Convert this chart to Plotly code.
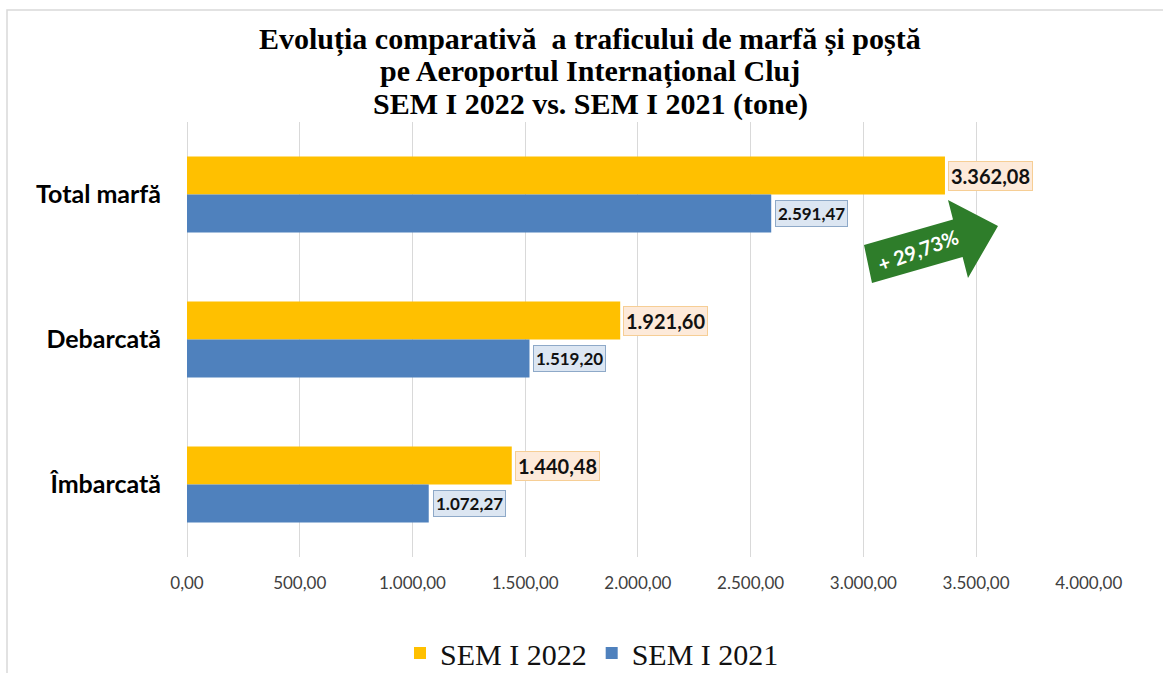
import plotly.graph_objects as go

# ---------------- data ----------------
categories = ["Total marfă", "Debarcată", "Îmbarcată"]
sem_2022 = [3362.08, 1921.60, 1440.48]
sem_2021 = [2591.47, 1519.20, 1072.27]
series_names = ["SEM I 2022", "SEM I 2021"]
title_lines = [
    "Evoluția comparativă  a traficului de marfă și poștă",
    "pe Aeroportul Internațional Cluj",
    "SEM I 2022 vs. SEM I 2021 (tone)",
]
growth_label = "+ 29,73%"
x_ticks = [0, 500, 1000, 1500, 2000, 2500, 3000, 3500, 4000]

# ---------------- layout geometry ----------------
W, H = 1163, 673
ML, MR, MT, MB = 187, 74, 122, 116
PL, PR, PT, PB = ML, W - MR, MT, H - MB


def px(x):
    return (x - PL) / (PR - PL)


def py(y):
    return (PB - y) / (PB - PT)


def ro(v):
    s = f"{v:,.2f}"
    return s.replace(",", "X").replace(".", ",").replace("X", ".")


GOLD = "#FFC000"
BLUE = "#4F81BD"

fig = go.Figure()
fig.add_trace(go.Bar(y=categories, x=sem_2022, orientation="h", name=series_names[0],
                     marker=dict(color=GOLD, line=dict(width=0))))
fig.add_trace(go.Bar(y=categories, x=sem_2021, orientation="h", name=series_names[1],
                     marker=dict(color=BLUE, line=dict(width=0))))

annotations = []
# data labels
for cat, v in zip(categories, sem_2022):
    annotations.append(dict(x=v, y=cat, xref="x", yref="y", text=f"<b>{ro(v)}</b>",
                            showarrow=False, xanchor="left", yanchor="middle",
                            xshift=3, yshift=19,
                            font=dict(family="Lato", size=20, color="#111111"),
                            bgcolor="#FDEADA", bordercolor="#F6CE95", borderwidth=1, borderpad=2))
for cat, v in zip(categories, sem_2021):
    annotations.append(dict(x=v, y=cat, xref="x", yref="y", text=f"<b>{ro(v)}</b>",
                            showarrow=False, xanchor="left", yanchor="middle",
                            xshift=4, yshift=-19,
                            font=dict(family="Lato", size=17, color="#111111"),
                            bgcolor="#DCE6F2", bordercolor="#8EA9C8", borderwidth=1, borderpad=2))

# title lines
for txt, yc in zip(title_lines, [40, 72, 104]):
    annotations.append(dict(x=px(590), y=py(yc), xref="paper", yref="paper",
                            text=f"<b>{txt}</b>", showarrow=False,
                            xanchor="center", yanchor="middle",
                            font=dict(family="Liberation Serif", size=30, color="#000000")))

# arrow text
annotations.append(dict(x=px(918), y=py(250), xref="paper", yref="paper",
                        text=f"<b>{growth_label}</b>", showarrow=False, textangle=-20,
                        xanchor="center", yanchor="middle",
                        font=dict(family="Lato", size=20, color="#FFFFFF")))

# green block arrow (decoration)
arrow_px = [(864, 245), (953, 219.5), (948, 200), (998, 226), (968, 278), (962.6, 257), (872, 283)]
path = "M " + " L ".join(f"{px(x):.5f},{py(y):.5f}" for x, y in arrow_px) + " Z"

shapes = [
    dict(type="path", xref="paper", yref="paper", path=path,
         fillcolor="#2E7D2A", line=dict(width=0), layer="above"),
    # outer frame
    dict(type="rect", xref="paper", yref="paper",
         x0=px(7), y0=py(690), x1=px(1175), y1=py(10),
         line=dict(color="#D9D9D9", width=1.5), fillcolor="rgba(0,0,0,0)", layer="below"),
]

fig.update_layout(
    width=W, height=H,
    margin=dict(l=ML, r=MR, t=MT, b=MB, pad=0, autoexpand=False),
    paper_bgcolor="#FFFFFF", plot_bgcolor="#FFFFFF",
    barmode="group", bargap=0.476, bargroupgap=0,
    separators=",.",
    showlegend=True,
    legend=dict(orientation="h", x=px(592), xanchor="center", y=py(653), yanchor="middle",
                font=dict(family="Liberation Serif", size=30, color="#111111"),
                bgcolor="rgba(0,0,0,0)", itemsizing="constant", traceorder="normal"),
    annotations=annotations,
    shapes=shapes,
)

fig.update_xaxes(range=[0, 4001], tickvals=x_ticks, tickformat=",.2f", automargin=False,
                 showgrid=True, gridcolor="#D9D9D9", gridwidth=1,
                 zeroline=True, zerolinecolor="#D9D9D9", zerolinewidth=1,
                 showline=False, ticks="", ticklabelstandoff=14,
                 tickfont=dict(family="Lato", size=17, color="#404040"))
fig.update_yaxes(type="category", categoryorder="array", categoryarray=categories,
                 autorange="reversed", showgrid=False, zeroline=False, showline=False,
                 ticks="", ticklabelstandoff=25, automargin=False,
                 tickfont=dict(family="Lato", size=25, color="#000000", weight="bold"))

fig.write_html("out.html", config={"displayModeBar": False},
               post_script="document.body.style.margin='0px';document.body.style.overflow='hidden';")
